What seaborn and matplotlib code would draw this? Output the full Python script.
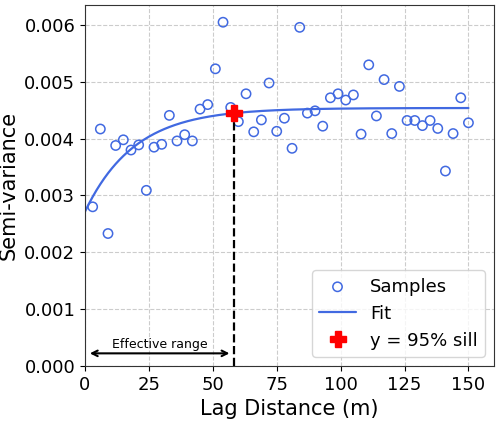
import numpy as np
import pandas as pd
import seaborn as sns
from matplotlib import pyplot as plt

# experimental semivariogram (lag every 3 m)
lags = [3, 6, 9, 12, 15, 18, 21, 24, 27, 30, 33, 36, 39, 42, 45, 48, 51, 54, 57, 60,
        63, 66, 69, 72, 75, 78, 81, 84, 87, 90, 93, 96, 99, 102, 105, 108, 111, 114, 117, 120,
        123, 126, 129, 132, 135, 138, 141, 144, 147, 150]
gamma = [0.00280, 0.00417, 0.00233, 0.00388, 0.00398, 0.00380, 0.00389, 0.00309, 0.00385, 0.00390,
         0.00441, 0.00396, 0.00407, 0.00396, 0.00452, 0.00460, 0.00523, 0.00605, 0.00455, 0.00430,
         0.00479, 0.00412, 0.00433, 0.00498, 0.00413, 0.00436, 0.00383, 0.00596, 0.00445, 0.00449,
         0.00422, 0.00472, 0.00479, 0.00468, 0.00477, 0.00408, 0.00530, 0.00440, 0.00504, 0.00409,
         0.00492, 0.00432, 0.00432, 0.00423, 0.00432, 0.00418, 0.00343, 0.00409, 0.00472, 0.00428]

# fitted exponential model
nugget = 0.002716
psill = 0.001824
eff_range = 58.4

h = np.linspace(0, 150, 300)
fit = nugget + psill * (1 - np.exp(-3 * h / eff_range))
y95 = nugget + 0.95 * psill

samples = pd.DataFrame({"lag": lags, "gamma": gamma})
model = pd.DataFrame({"lag": h, "gamma": fit})

sns.set_style("ticks")
plt.rcParams.update({"text.color": "black", "axes.labelcolor": "black",
                     "xtick.color": "black", "ytick.color": "black"})
fig, ax = plt.subplots(figsize=(5, 4.21), dpi=100)

sns.scatterplot(data=samples, x="lag", y="gamma", ax=ax, marker="o", s=45,
                facecolor="none", edgecolor="royalblue", linewidth=1.1, label="Samples")
sns.lineplot(data=model, x="lag", y="gamma", ax=ax, color="royalblue", lw=1.6, label="Fit")
ax.plot([eff_range, eff_range], [0, y95], color="black", ls="--", lw=1.6)
ax.plot(eff_range, y95, marker="P", color="red", ms=12, ls="none", label="y = 95% sill")

ax.annotate("", xy=(0.8, 0.00022), xytext=(eff_range - 0.8, 0.00022),
            arrowprops=dict(arrowstyle="<->", color="black", lw=1.5))
ax.text(eff_range / 2, 0.00027, "Effective range", ha="center", va="bottom", fontsize=9)

ax.set_xlim(0, 160)
ax.set_ylim(0, max(gamma) * 1.05)
ax.set_xticks([0, 25, 50, 75, 100, 125, 150])
ax.set_xlabel("Lag Distance (m)", fontsize=15)
ax.set_ylabel("Semi-variance", fontsize=15)
ax.tick_params(labelsize=13)
ax.grid(True, ls="--", color="#cccccc", lw=0.8)
for s in ax.spines.values():
    s.set_color("#333333")

ax.legend(loc="lower right", fontsize=13)
plt.subplots_adjust(left=0.17, right=0.988, top=0.988, bottom=0.131)
plt.savefig("out.png", dpi=100)
